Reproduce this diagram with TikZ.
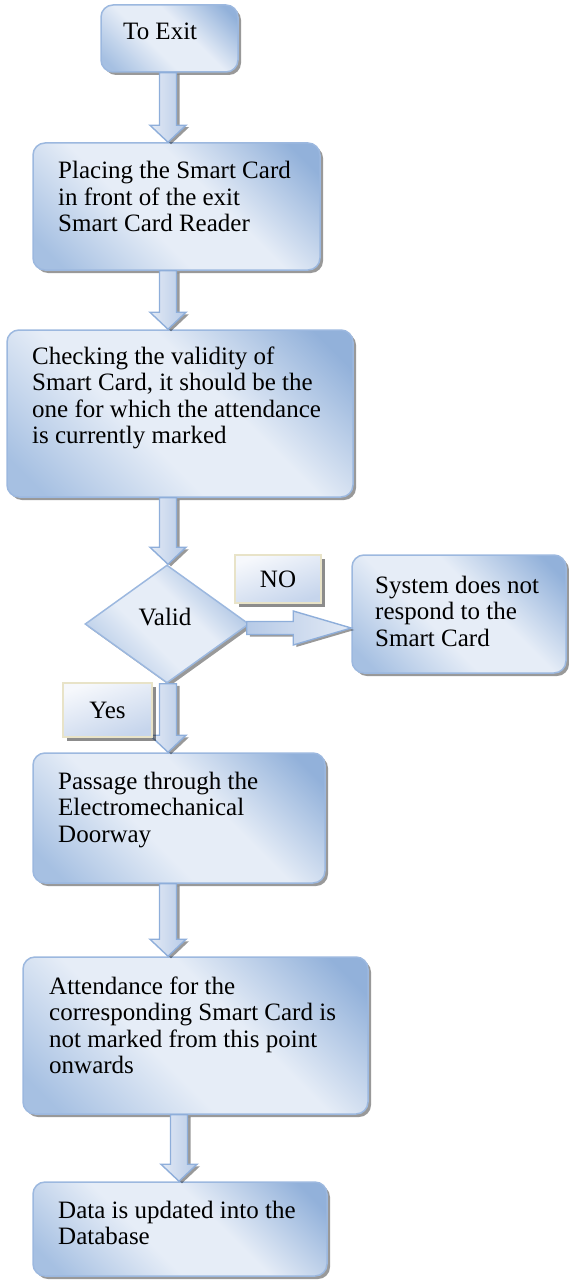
\documentclass[tikz,border=0pt]{standalone}
\usepackage{fontspec}
\setmainfont{Liberation Serif}
\usetikzlibrary{shapes.geometric,shadows,calc}

% palette
\definecolor{bxDark}{HTML}{92B1DA}
\definecolor{bxMid}{HTML}{A6C0E2}
\definecolor{bxLight}{HTML}{E6EDF7}
\definecolor{bxEdge}{HTML}{9CB8DF}
\definecolor{arrL}{HTML}{E3EAF5}
\definecolor{arrR}{HTML}{B6CAE7}
\definecolor{arrEdge}{HTML}{8EAEDA}
\definecolor{lblEdge}{HTML}{E8E3C8}
\definecolor{lblLight}{HTML}{F6F8FC}
\definecolor{lblDark}{HTML}{C6D5EC}

% diagonal fill: darker corners, light band through the middle
\pgfdeclarehorizontalshading{boxshade}{100bp}{color(0bp)=(bxMid); color(20bp)=(bxMid);
  color(42bp)=(bxLight); color(58bp)=(bxLight); color(80bp)=(bxDark); color(100bp)=(bxDark)}

% block arrow pointing down, from #1 to #2
\newcommand\blockdown[2]{%
  \path[barrow] let \p1=(#1), \p2=(#2) in
    (\x1-8.5pt,\y1) -- (\x1+8.5pt,\y1) -- (\x1+8.5pt,\y2+17pt) -- (\x1+18pt,\y2+17pt)
    -- (\x1,\y2) -- (\x1-18pt,\y2+17pt) -- (\x1-8.5pt,\y2+17pt) -- cycle;}
% block arrow pointing right, from #1 to #2
\newcommand\blockright[2]{%
  \path[barrow, left color=arrR, right color=arrL] let \p1=(#1), \p2=(#2) in
    (\x1,\y1+6.5pt) -- (\x2-58pt,\y1+6.5pt) -- (\x2-58pt,\y1+17pt) -- (\x2,\y1)
    -- (\x2-58pt,\y1-17pt) -- (\x2-58pt,\y1-6.5pt) -- (\x1,\y1-6.5pt) -- cycle;}

\begin{document}
\begin{tikzpicture}[x=1pt,y=-1pt,
  shade3/.style={drop shadow={shadow xshift=3pt,shadow yshift=-3pt,fill=black,opacity=0.4}},
  box/.style={rectangle, rounded corners=12pt, draw=bxEdge, line width=1.5pt,
    shading=boxshade, shading angle=45, inner sep=0pt, shade3},
  decide/.style={diamond, draw=bxEdge, line width=1.5pt, shading=boxshade, shading angle=45,
    inner sep=0pt, shade3},
  lbl/.style={rectangle, draw=lblEdge, line width=2pt, top color=lblLight, bottom color=lblDark,
    shading angle=20, inner sep=0pt, font=\fontsize{25}{26.5}\selectfont,
    drop shadow={shadow xshift=4pt,shadow yshift=-4pt,fill=black,opacity=0.45}},
  barrow/.style={draw=arrEdge, line width=1.4pt, left color=arrL, right color=arrR,
    drop shadow={shadow xshift=3pt,shadow yshift=-2pt,fill=black,opacity=0.4}},
  txt/.style={inner sep=0pt, anchor=base west, align=left, font=\fontsize{25}{26.5}\selectfont},
]
\useasboundingbox (0,0) rectangle (569,1281);

% boxes
\node[box, minimum width=137, minimum height=67]  (b1) at (169.5,38.5) {};
\node[box, minimum width=287, minimum height=127] (b2) at (176.5,206.5) {};
\node[box, minimum width=346, minimum height=167] (b3) at (180,413.5) {};
\node[decide, minimum width=164, minimum height=118, aspect=1.39] (dv) at (167,624) {};
\node[box, minimum width=214, minimum height=118] (sys) at (459,614) {};
\node[box, minimum width=292, minimum height=130] (b4) at (179,818) {};
\node[box, minimum width=345, minimum height=157] (b5) at (195.5,1035.5) {};
\node[box, minimum width=294, minimum height=94]  (b6) at (180,1229) {};

% box texts
\node[txt] (t1) at (123,40) {To Exit};
\node[txt] (t2) at (58,179) {\parbox[t]{320pt}{Placing the Smart Card\\in front of the exit\\Smart Card Reader}};
\node[txt] (t3) at (32,364) {\parbox[t]{340pt}{Checking the validity of\\Smart Card, it should be the\\one for which the attendance\\is currently marked}};
\node[inner sep=0pt, font=\fontsize{25}{26.5}\selectfont] (tv) at (165,617) {Valid};
\node[txt] (ts) at (375,593) {\parbox[t]{200pt}{System does not\\respond to the\\Smart Card}};
\node[txt] (t4) at (58,789) {\parbox[t]{300pt}{Passage through the\\Electromechanical\\Doorway}};
\node[txt] (t5) at (49,994) {\parbox[t]{330pt}{Attendance for the\\corresponding Smart Card is\\not marked from this point\\onwards}};
\node[txt] (t6) at (58,1218) {\parbox[t]{300pt}{Data is updated into the\\Database}};

% connectors
\coordinate (ax) at (168,0);
\coordinate (ax2) at (179,0);
\blockdown{b1.south -| ax}{b2.north -| ax}
\blockdown{b2.south -| ax}{b3.north -| ax}
\blockdown{b3.south -| ax}{dv.north -| ax}
\blockdown{dv.south -| ax}{b4.north -| ax}
\blockdown{b4.south -| ax}{b5.north -| ax}
\blockdown{b5.south -| ax2}{b6.north -| ax2}
\coordinate (rs) at ($(dv.east)+(-3,4)$);
\blockright{rs}{sys.west |- rs}

% branch labels
\node[lbl, minimum width=86, minimum height=48] (no) at (278,579) {NO};
\node[lbl, minimum width=89, minimum height=54] (yes) at (107.5,710) {Yes};
\end{tikzpicture}
\end{document}
